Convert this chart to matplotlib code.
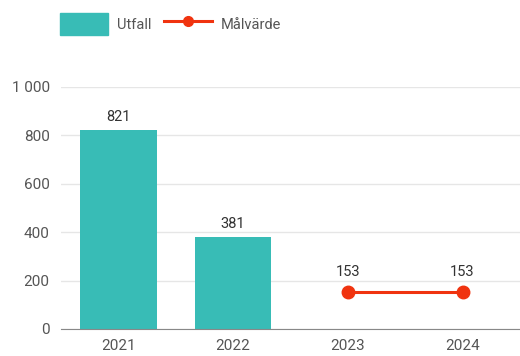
import numpy as np
import matplotlib.pyplot as plt
from matplotlib.patches import Patch
from matplotlib.lines import Line2D

years = ["2021", "2022", "2023", "2024"]
utfall = [821, 381, None, None]
malvarde = [None, None, 153, 153]

teal = "#38bcb6"
red = "#f0330f"
grey = "#555555"

plt.rcParams['font.family'] = ['Roboto', 'DejaVu Sans']

fig = plt.figure(figsize=(5.2, 3.56), dpi=100)
ax = fig.add_axes([0.117, 0.076, 0.883, 0.68])

x = np.arange(len(years))
bar_x = [i for i, v in zip(x, utfall) if v is not None]
bar_v = [v for v in utfall if v is not None]
ax.bar(bar_x, bar_v, width=0.67, color=teal, zorder=2)
for xi, v in zip(bar_x, bar_v):
    ax.text(xi, v + 25, str(v), ha='center', va='bottom', fontsize=10.5, color='#333333')

line_x = [i for i, v in zip(x, malvarde) if v is not None]
line_v = [v for v in malvarde if v is not None]
ax.plot(line_x, line_v, color=red, lw=2.2, marker='o', ms=9, zorder=3)
for xi, v in zip(line_x, line_v):
    ax.text(xi, v + 55, str(v), ha='center', va='bottom', fontsize=10.5, color='#333333')

ax.set_xlim(-0.5, 3.5)
ax.set_ylim(0, 1000)
ax.set_yticks([0, 200, 400, 600, 800, 1000])
ax.set_yticklabels(["0", "200", "400", "600", "800", "1 000"])
ax.set_xticks(x)
ax.set_xticklabels(years)
ax.tick_params(axis='both', length=0, colors=grey, labelsize=11)
ax.tick_params(axis='y', pad=8)
ax.tick_params(axis='x', pad=7)
ax.grid(axis='y', color='#e6e6e6', lw=1, zorder=0)
for s in ['top', 'right', 'left']:
    ax.spines[s].set_visible(False)
ax.spines['bottom'].set_color('#888888')

handles = [Patch(color=teal), Line2D([], [], color=red, lw=2.2, marker='o', ms=7)]
fig.legend(handles, ["Utfall", "Målvärde"], loc='center left', bbox_to_anchor=(0.09, 0.932),
           frameon=False, ncol=2, fontsize=10.5, labelcolor=grey, handlelength=3.3,
           handleheight=1.9, columnspacing=0.9, handletextpad=0.6)

fig.savefig("out.png", dpi=100)
